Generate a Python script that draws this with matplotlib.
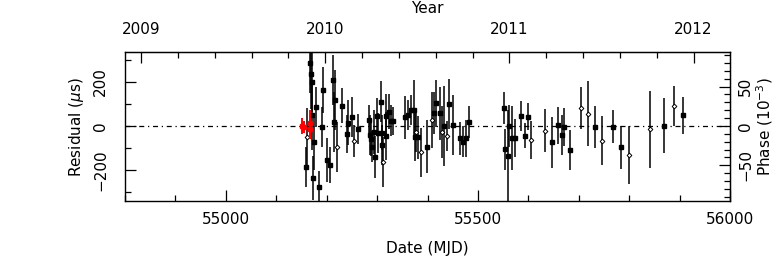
#!/usr/bin/python3

import numpy as np
import matplotlib
matplotlib.use('Agg')
import matplotlib.pyplot as plt
from matplotlib.ticker import MultipleLocator, FixedLocator, FormatStrFormatter

# filled squares: MJD, residual (us), error (us)
mjd_sq = [55159, 55167, 55169, 55171, 55171, 55173, 55175, 55179, 55185, 55191,
          55193, 55201, 55207, 55213, 55215, 55217, 55230, 55240, 55242, 55250,
          55262, 55284, 55285, 55287, 55289, 55293, 55295, 55300, 55301, 55308,
          55309, 55310, 55317, 55318, 55323, 55328, 55332, 55356, 55362, 55368,
          55373, 55376, 55381, 55399, 55413, 55417, 55424, 55433, 55443, 55450,
          55465, 55471, 55477, 55483, 55551, 55553, 55559, 55561, 55568, 55573,
          55586, 55593, 55599, 55646, 55658, 55666, 55671, 55683, 55733, 55767,
          55783, 55870, 55906]
res_sq = [-185, 286, 236, 200, 50, -236, -73, 86, -277, -5,
          164, -155, -177, 209, 18, 118, 92, -36, 14, 42,
          -14, 27, -41, -58, -94, -26, -140, 47, -32, 109,
          -30, -86, -45, 45, 64, 23, 23, 40, 50, 73,
          73, -49, -51, -95, 58, 103, 58, 0, 98, 5,
          -56, -71, -56, 17, 83, -105, -136, 0, -56, -56,
          45, -45, 42, -74, 3, -40, -3, -108, -3, -3,
          -97, 0, 48]
err_sq = [91, 136, 160, 136, 160, 100, 127, 91, 73, 90,
          105, 100, 80, 114, 136, 136, 80, 87, 102, 91,
          68, 70, 90, 80, 70, 100, 95, 80, 90, 93,
          80, 90, 110, 100, 80, 70, 64, 98, 68, 68,
          136, 110, 98, 121, 95, 106, 121, 182, 114, 136,
          74, 72, 83, 72, 72, 93, 210, 95, 145, 87,
          67, 57, 62, 116, 85, 91, 86, 91, 95, 76,
          98, 125, 83]

# open diamonds
mjd_op = [55161, 55220, 55254, 55312, 55378, 55387, 55408, 55428, 55438, 55605,
          55633, 55704, 55719, 55746, 55799, 55841, 55889]
res_op = [-50, -95, -68, -162, -29, -120, 27, -29, -45, -65,
          -21, 80, 55, -67, -133, -15, 91]
err_op = [130, 114, 72, 114, 90, 110, 129, 118, 68, 86,
          98, 95, 148, 112, 132, 174, 89]

# red points
mjd_red = [55151, 55155, 55167, 55167]
res_red = [0, -5, 14, -14]
err_red = [35, 27, 59, 45]

years = [2009, 2010, 2011, 2012]
period_ms = 3.572  # residual (us) / period (ms) -> phase (1e-3)

plt.rcParams['font.size'] = 11
fig = plt.figure(figsize=(7.78, 2.65), dpi=100)
ax = fig.add_axes([0.1607, 0.2415, 0.7776, 0.5623])

ax.axhline(0, color='k', lw=0.9, ls=(0, (4, 3, 1, 3)), zorder=1)
ax.errorbar(mjd_sq, res_sq, yerr=err_sq, fmt='s', color='k', ms=2.3,
            elinewidth=1.1, capsize=0, zorder=3)
ax.errorbar(mjd_op, res_op, yerr=err_op, fmt='D', color='k', mfc='white',
            ms=2.4, mew=0.7, elinewidth=1.1, capsize=0, zorder=3)
ax.errorbar(mjd_red, res_red, yerr=err_red, xerr=4, fmt='s', color='red',
            ms=3, elinewidth=1.4, capsize=0, zorder=4)

ax.set_xlim(54800, 56000)
ax.set_ylim(-341, 336)
ax.xaxis.set_major_locator(MultipleLocator(500))
ax.xaxis.set_minor_locator(MultipleLocator(100))
ax.yaxis.set_major_locator(MultipleLocator(200))
ax.yaxis.set_minor_locator(MultipleLocator(100))
ax.tick_params(which='both', direction='in', width=0.9)
ax.tick_params(which='major', length=8)
ax.tick_params(which='minor', length=4)
ax.tick_params(axis='x', pad=8)
ax.tick_params(axis='y', pad=12, labelrotation=90)
for lab in ax.get_yticklabels():
    lab.set_va('center')
ax.set_xlabel('Date (MJD)', labelpad=10)
ax.set_ylabel('Residual ($\\mu$s)', labelpad=5)
for s in ax.spines.values():
    s.set_linewidth(1.0)

# top axis: year
top = ax.secondary_xaxis('top', functions=(lambda m: 2009 + (m - 54832) / 365.25,
                                           lambda y: 54832 + (y - 2009) * 365.25))
top.xaxis.set_major_locator(FixedLocator(years))
top.xaxis.set_minor_locator(FixedLocator(np.arange(2008.8, 2012.3, 0.2)))
top.xaxis.set_major_formatter(FormatStrFormatter('%d'))
top.tick_params(which='both', direction='in', width=0.9, pad=11)
top.tick_params(which='major', length=8)
top.tick_params(which='minor', length=4)
top.set_xlabel('Year', labelpad=6)

# right axis: phase
right = ax.secondary_yaxis('right', functions=(lambda r: r / period_ms,
                                               lambda p: p * period_ms))
right.yaxis.set_major_locator(FixedLocator([-50, 0, 50]))
right.yaxis.set_minor_locator(FixedLocator(np.arange(-90, 91, 10)))
right.tick_params(which='both', direction='in', width=0.9, pad=6, labelrotation=90)
right.tick_params(which='major', length=8)
right.tick_params(which='minor', length=4)
for lab in right.get_yticklabels():
    lab.set_va('center')
right.set_ylabel('Phase (10$^{-3}$)', labelpad=1)

fig.savefig('out.png', dpi=100)
